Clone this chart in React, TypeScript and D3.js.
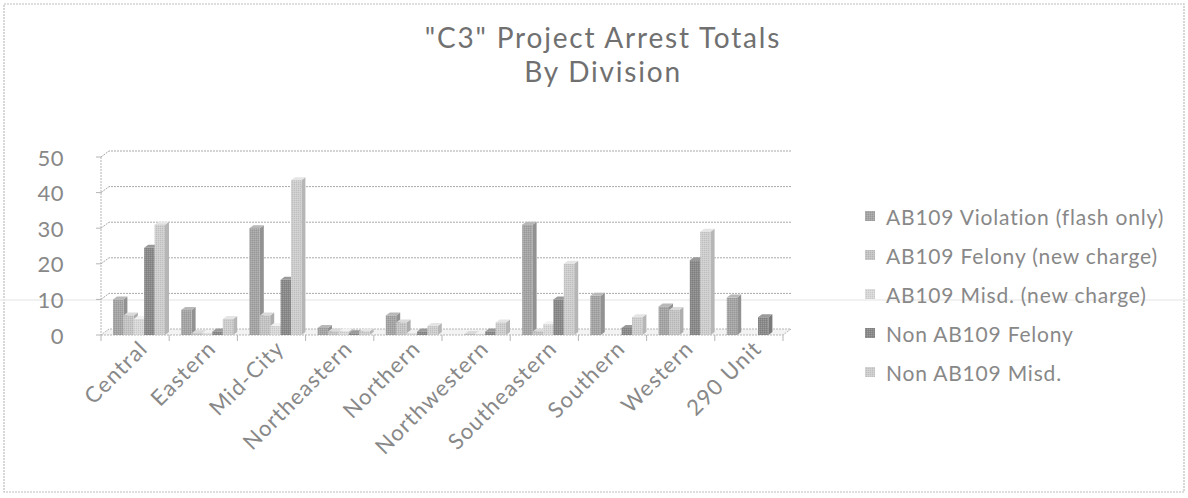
import * as d3 from 'd3';
import React from 'react';

const categories = ['Central', 'Eastern', 'Mid-City', 'Northeastern', 'Northern', 'Northwestern', 'Southeastern', 'Southern', 'Western', '290 Unit'];
const seriesNames = ['AB109 Violation (flash only)', 'AB109 Felony (new charge)', 'AB109 Misd. (new charge)', 'Non AB109 Felony', 'Non AB109 Misd.'];

const violation = [10, 7, 30, 2, 5.5, 0, 31, 11, 8, 10.5];
const felony = [5.5, 0.5, 5.5, 1, 3.5, 0.3, 1, 0, 7, 0];
const misd = [4.5, 0.5, 2.5, 1, 0.5, 0.3, 3, 0, 0, 0];
const nonFelony = [24.5, 1, 15.5, 0.5, 1, 1, 10, 2, 21, 5];
const nonMisd = [31, 4.5, 43.5, 1, 2.5, 3.5, 20, 5, 29, 0];

const yTicks = [0, 10, 20, 30, 40, 50];

const seriesValues = [violation, felony, misd, nonFelony, nonMisd];
const fills = ['#a5a5a5', '#c4c4c4', '#d9d9d9', '#8a8a8a', '#cecece'];

const W = 1188;
const H = 498;
const FONT = 'Lato, "Open Sans", sans-serif';
const TEXT = '#888';
const DX = 8; // depth offset of the back wall
const DY = -6;
const BX = 4; // bar depth
const BY = -3;

export default function App() {
  const x = d3.scaleBand<string>().domain(categories).range([101, 783]).paddingInner(0).paddingOuter(0);
  const inner = d3.scaleBand<string>().domain(seriesNames).range([12, 64]).padding(0);
  const y = d3.scaleLinear().domain([0, 50]).range([335, 157]);

  const bw = inner.bandwidth();
  const y0 = y(0);
  const xL = x.range()[0];
  const xR = x.range()[1];

  const darker = (c: string, k: number) => d3.color(c)!.darker(k).formatHex();
  const brighter = (c: string, k: number) => d3.color(c)!.brighter(k).formatHex();

  return (
    <svg width={W} height={H} style={{ position: 'absolute', left: 0, top: 0, background: '#fff' }} fontFamily={FONT}>
      <defs>
        <pattern id="dots" width="2" height="2" patternUnits="userSpaceOnUse">
          <rect width="1" height="1" fill="#000" opacity="0.08" />
          <rect x="1" y="1" width="1" height="1" fill="#fff" opacity="0.15" />
        </pattern>
      </defs>
      {/* chart border */}
      <rect x={4} y={4} width={W - 8} height={H - 10} fill="none" stroke="#bdbdbd" strokeWidth={1.2} strokeDasharray="2,1" />
      {/* scan line artifact */}
      <line x1={0} x2={W} y1={300} y2={300} stroke="#ededed" strokeWidth={1.5} />

      {/* title */}
      <text x={603} y={48} textAnchor="middle" fontSize={28} letterSpacing={1.8} fill="#707070">"C3" Project Arrest Totals</text>
      <text x={603} y={82} textAnchor="middle" fontSize={28} letterSpacing={1.8} fill="#707070">By Division</text>

      {/* floor */}
      <path d={`M${xL},${y0} L${xR},${y0} L${xR + DX},${y0 + DY} L${xL + DX},${y0 + DY} Z`} fill="#f3f3f3" stroke="#b5b5b5" strokeWidth={1} strokeDasharray="2,1" />

      {/* back gridlines */}
      {yTicks.slice(1).map(t => (
        <path key={t} d={`M${xL},${y(t)} L${xL + DX},${y(t) + DY} L${xR + DX},${y(t) + DY}`} fill="none" stroke="#a9a9a9" strokeWidth={1} strokeDasharray="2,1" />
      ))}

      {/* y axis */}
      <line x1={xL} x2={xL} y1={y(50)} y2={y0} stroke="#b5b5b5" strokeDasharray="2,1" />
      {yTicks.map(t => (
        <g key={t}>
          <line x1={xL - 5} x2={xL} y1={y(t)} y2={y(t)} stroke="#b5b5b5" />
          <text x={xL - 37} y={y(t)} textAnchor="end" dominantBaseline="central" fontSize={22} letterSpacing={0.5} fill={TEXT}>{t}</text>
        </g>
      ))}

      {/* x ticks */}
      {categories.concat(['end']).map((c, i) => {
        const xx = i < categories.length ? x(c)! : xR;
        return <line key={c} x1={xx} x2={xx} y1={y0} y2={y0 + 6} stroke="#b5b5b5" />;
      })}

      {/* bars */}
      {categories.map((c, ci) => (
        <g key={c}>
          {seriesNames.map((s, si) => {
            const v = seriesValues[si][ci];
            if (v <= 0) return null;
            const bx = x(c)! + inner(s)!;
            const top = y(v);
            const f = fills[si];
            return (
              <g key={s}>
                <path d={`M${bx + bw},${y0} L${bx + bw + BX},${y0 + BY} L${bx + bw + BX},${top + BY} L${bx + bw},${top} Z`} fill={darker(f, 0.35)} />
                <path d={`M${bx},${top} L${bx + BX},${top + BY} L${bx + bw + BX},${top + BY} L${bx + bw},${top} Z`} fill={brighter(f, 0.3)} />
                <rect x={bx} y={top} width={bw} height={y0 - top} fill={f} />
                <rect x={bx} y={top} width={bw} height={y0 - top} fill="url(#dots)" />
              </g>
            );
          })}
        </g>
      ))}

      {/* x labels */}
      {categories.map(c => {
        const cx = x(c)! + x.bandwidth() / 2 + 14;
        return (
          <text key={c} transform={`translate(${cx},${350}) rotate(-45)`} textAnchor="end" fontSize={22} letterSpacing={1.2} fill={TEXT}>{c}</text>
        );
      })}

      {/* legend */}
      {seriesNames.map((s, i) => {
        const ly = 216 + i * 39;
        return (
          <g key={s}>
            <rect x={865} y={ly - 5} width={10} height={10} fill={fills[i]} />
            <rect x={865} y={ly - 5} width={10} height={10} fill="url(#dots)" />
            <text x={886} y={ly} dominantBaseline="central" fontSize={21} letterSpacing={0.8} fill={TEXT}>{s}</text>
          </g>
        );
      })}
    </svg>
  );
}
